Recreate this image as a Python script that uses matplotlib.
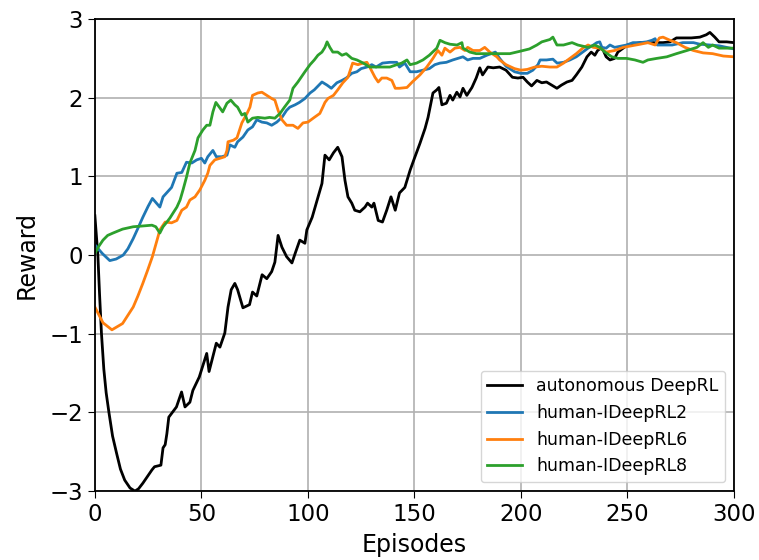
import matplotlib
matplotlib.use("Agg")
import matplotlib.pyplot as plt

# autonomous DeepRL
auto_x = [0, 0.7, 1.4, 2.2, 3.1, 4.2, 5.3, 6.6, 8.3, 10.2, 12, 14, 16.5, 18.8, 20.5, 22.5, 25, 26.8, 28,
          31, 32, 33, 33.8, 34.7, 38.3, 40.7, 42.3, 44.6, 46, 49,
          52.5, 53.6, 57, 58.7, 61, 62.5, 64, 65.7, 67, 69.5, 72.6, 74, 76, 78.5, 80.7, 83, 84.5, 86, 87.8,
          90, 92.5, 94, 96.2, 98.6, 99.5, 102, 106.6, 108, 110, 112, 114, 116, 117.4, 118.8, 120.6, 122,
          124.4, 126.8, 128, 130, 131, 133, 135, 137, 139, 141, 143, 145.5, 148, 150, 152.6, 155, 156.4,
          158.7, 160.5, 161.5, 162.9, 165, 166.7, 168, 169.9, 171.4, 172.8, 174.6, 177, 179, 180.7, 182,
          184.5, 187, 190, 193, 196, 198.6, 201, 203, 205, 207.5, 209.8, 212, 214.5, 216.9, 219, 221.6,
          224, 226, 228.6, 231, 233, 234.7, 236, 238, 240, 241.8, 244, 245.5, 248, 250, 256, 262, 266.7,
          270, 273, 276, 280, 284, 287, 288.7, 291, 293, 296.6, 300]
auto_y = [0.50, 0.25, 0.0, -0.50, -1.00, -1.45, -1.75, -2.00, -2.30, -2.52, -2.72, -2.86, -2.96, -3.00,
          -2.97, -2.90, -2.80, -2.73, -2.69, -2.67, -2.45, -2.41, -2.27, -2.06,
          -1.93, -1.74, -1.93, -1.87, -1.72, -1.55, -1.25, -1.48, -1.12, -1.17, -0.99, -0.66, -0.44, -0.36,
          -0.44, -0.67, -0.63, -0.47, -0.52, -0.25, -0.30, -0.21, -0.09, 0.25, 0.10, -0.02, -0.10, 0.02,
          0.19, 0.15, 0.32, 0.48, 0.91, 1.27, 1.21, 1.30, 1.37, 1.25, 0.95, 0.74, 0.66, 0.57, 0.55, 0.61,
          0.66, 0.61, 0.66, 0.44, 0.42, 0.57, 0.74, 0.57, 0.79, 0.86, 1.08, 1.23, 1.42, 1.61, 1.75, 2.06,
          2.10, 2.13, 1.91, 1.93, 2.03, 1.97, 2.07, 2.01, 2.12, 2.03, 2.13, 2.25, 2.38, 2.29, 2.39, 2.38,
          2.39, 2.35, 2.26, 2.25, 2.26, 2.20, 2.15, 2.22, 2.19, 2.20, 2.16, 2.12, 2.16, 2.20, 2.22, 2.29,
          2.39, 2.52, 2.58, 2.54, 2.60, 2.64, 2.52, 2.48, 2.50, 2.58, 2.63, 2.67, 2.70, 2.70, 2.70, 2.71,
          2.76, 2.76, 2.76, 2.77, 2.80, 2.83, 2.77, 2.71, 2.71, 2.70]

# human-IDeepRL2
h2_x = [0, 3.5, 7, 10, 13.3, 15.5, 18, 20.2, 22.5, 25, 27, 30.5, 32, 34, 36, 38.5, 40.8, 43, 45.5, 47.8,
        50, 51.6, 53,
        55.4, 57, 59.6, 62, 63.4, 65.7, 67, 69.5, 71.8, 74, 76, 78.4, 80.7, 83, 85.4, 87.8, 90, 91.5, 94,
        96, 98.6, 101, 103, 106.6, 109, 111, 113.6, 116, 118, 120.6, 123, 125, 127.7, 130, 132, 135,
        138.5, 141.7, 143, 145.5, 148, 151, 154, 157, 159.6, 162, 165, 168, 170.4, 172.8, 175, 177.5,
        180.7, 184, 186, 188, 190, 193, 197, 200, 203, 205.6, 208, 209, 212, 215, 217, 220, 223, 226,
        229, 231.5, 234, 235.6, 237, 238, 240, 241.8, 244, 249.6, 252.6, 256, 259, 261.5, 263, 264,
        266.7, 271, 276, 281, 284, 288.7, 293, 300]
h2_y = [0.13, 0.02, -0.07, -0.05, 0.0, 0.08, 0.21, 0.34, 0.48, 0.62, 0.72, 0.61, 0.74, 0.80, 0.86, 1.04,
        1.05, 1.18, 1.17,
        1.21, 1.23, 1.17, 1.25, 1.33, 1.25, 1.25, 1.27, 1.40, 1.37, 1.44, 1.50, 1.59, 1.63, 1.72, 1.69,
        1.68, 1.65, 1.69, 1.75, 1.84, 1.88, 1.91, 1.94, 1.99, 2.06, 2.10, 2.20, 2.16, 2.12, 2.19, 2.22,
        2.25, 2.31, 2.33, 2.37, 2.39, 2.42, 2.39, 2.44, 2.45, 2.45, 2.39, 2.44, 2.33, 2.33, 2.35, 2.37,
        2.42, 2.44, 2.45, 2.48, 2.50, 2.52, 2.48, 2.50, 2.50, 2.54, 2.56, 2.58, 2.50, 2.40, 2.33, 2.31,
        2.31, 2.35, 2.42, 2.48, 2.48, 2.49, 2.44, 2.45, 2.48, 2.52, 2.58, 2.63, 2.67, 2.70, 2.71, 2.64,
        2.63, 2.67, 2.64, 2.67, 2.70, 2.70, 2.71, 2.73, 2.75, 2.67, 2.67, 2.67, 2.70, 2.70, 2.68, 2.67,
        2.66, 2.62]

# human-IDeepRL6
h6_x = [0, 3.8, 8, 13, 18, 20.2, 22.5, 24.8, 27, 29.6, 30.5, 33, 36, 38.5, 40.8, 43, 44.6, 47, 49.3, 51.6,
        53, 54, 56.3, 58.7, 61, 62, 62.5, 65, 66.7, 69, 71.4, 72.8, 74, 76.5, 78.4, 80.7, 83, 84.5, 86,
        87.8, 90, 93, 95.3, 97.7, 100, 103, 105.6, 107, 108, 109.4, 112, 114, 116.4, 118.8, 121, 123.5,
        126, 127.7, 129, 131.5, 133, 134.7, 137, 139.4, 141, 143, 146.5, 149, 152.6, 155.8, 158.7, 161,
        162.9, 164.3, 166.7, 169, 171.4, 173.7, 175, 177.5, 180.7, 183, 185.4, 188.7, 190, 193, 197, 200,
        203, 206.5, 209.8, 213.6, 216.9, 220, 223, 226, 229, 231.5, 234, 237, 240, 244, 248, 252, 256,
        259.6, 263, 265, 266.7, 270, 273, 277, 281, 285.5, 290, 295, 300]
h6_y = [-0.66, -0.86, -0.95, -0.87, -0.66, -0.52, -0.36, -0.19, -0.02, 0.23, 0.32, 0.42, 0.41, 0.44, 0.57,
        0.61, 0.70, 0.74, 0.83, 0.95, 1.04, 1.14, 1.21, 1.23, 1.25, 1.33, 1.44, 1.46, 1.49, 1.68, 1.80,
        1.88, 2.03, 2.06, 2.07, 2.03, 1.99, 1.97, 1.84, 1.72, 1.65, 1.65, 1.61, 1.68, 1.69, 1.75, 1.80,
        1.88, 1.94, 1.99, 2.03, 2.10, 2.19, 2.26, 2.44, 2.42, 2.44, 2.45, 2.39, 2.26, 2.20, 2.25, 2.25,
        2.22, 2.12, 2.12, 2.13, 2.20, 2.29, 2.39, 2.50, 2.60, 2.54, 2.63, 2.58, 2.63, 2.64, 2.60, 2.64,
        2.60, 2.60, 2.64, 2.58, 2.52, 2.48, 2.42, 2.37, 2.35, 2.36, 2.39, 2.40, 2.39, 2.39, 2.44, 2.50,
        2.56, 2.63, 2.67, 2.64, 2.63, 2.58, 2.60, 2.64, 2.66, 2.68, 2.70, 2.67, 2.76, 2.77, 2.73, 2.70,
        2.64, 2.60, 2.57, 2.56, 2.53, 2.52]

# human-IDeepRL8
h8_x = [0, 1.8, 3.8, 6, 8.5, 13, 18, 22.5, 26.8, 28.6, 30.5, 32, 33.8, 35.2, 36.6, 38.5, 40, 41.4, 43,
        44.6, 47,
        48.4, 50.7, 52.5, 54, 55.4, 56.8, 58.7, 60, 62, 63.8, 65.7, 67, 69, 70.4, 71.8, 74, 76.5, 79.8,
        82, 84.5, 86.9, 89, 91.5, 93, 95.3, 98.6, 101, 103, 104.7, 106.6, 108, 109, 110.3, 111.7, 114,
        116, 118, 120.6, 123, 126, 129, 132, 135, 138.5, 141.7, 144, 146.5, 148, 151, 154, 157, 160.5,
        162, 164.3, 166.7, 170, 172.3, 172.8, 176, 179, 184, 188.7, 194.8, 199.5, 204, 207.5, 209.8,
        213.6, 215, 216.9, 220, 224, 226.7, 231.5, 234.7, 237, 239.4, 242.7, 245.5, 249.6, 253.5, 257.3,
        259.6, 263.8, 268.5, 273, 277.9, 282.6, 285.5, 288, 290, 293, 296.6, 300]
h8_y = [0.02, 0.11, 0.19, 0.25, 0.28, 0.33, 0.36, 0.37, 0.38, 0.36, 0.28, 0.36, 0.42, 0.47, 0.53, 0.61,
        0.70, 0.83,
        0.99, 1.17, 1.33, 1.49, 1.59, 1.65, 1.65, 1.82, 1.94, 1.87, 1.82, 1.93, 1.97, 1.91, 1.88, 1.78,
        1.80, 1.69, 1.74, 1.75, 1.74, 1.75, 1.74, 1.80, 1.88, 1.97, 2.12, 2.20, 2.33, 2.42, 2.48, 2.54,
        2.58, 2.64, 2.71, 2.64, 2.58, 2.58, 2.54, 2.56, 2.50, 2.48, 2.44, 2.39, 2.39, 2.39, 2.39, 2.42,
        2.44, 2.48, 2.42, 2.44, 2.48, 2.54, 2.63, 2.73, 2.70, 2.68, 2.67, 2.70, 2.63, 2.58, 2.56, 2.56,
        2.56, 2.56, 2.59, 2.62, 2.67, 2.71, 2.74, 2.77, 2.67, 2.67, 2.70, 2.67, 2.64, 2.67, 2.64, 2.58,
        2.52, 2.50, 2.50, 2.48, 2.45, 2.48, 2.50, 2.52, 2.56, 2.60, 2.64, 2.70, 2.64, 2.67, 2.63, 2.63,
        2.63]

fig = plt.figure(figsize=(7.59, 5.6), dpi=100)
ax = fig.add_axes([0.125, 0.123, 0.842, 0.843])

ax.plot(auto_x, auto_y, color="black", lw=2, label="autonomous DeepRL")
ax.plot(h2_x, h2_y, color="#1f77b4", lw=2, label="human-IDeepRL2")
ax.plot(h6_x, h6_y, color="#ff7f0e", lw=2, label="human-IDeepRL6")
ax.plot(h8_x, h8_y, color="#2ca02c", lw=2, label="human-IDeepRL8")

ax.set_xlim(0, 300)
ax.set_ylim(-3, 3)
ax.set_xticks([0, 50, 100, 150, 200, 250, 300])
ax.set_yticks([-3, -2, -1, 0, 1, 2, 3])
ax.grid(True, color="#b0b0b0", lw=1.2)
ax.tick_params(labelsize=16.5, length=5)
ax.set_xlabel("Episodes", fontsize=17, labelpad=5)
ax.set_ylabel("Reward", fontsize=17, labelpad=8)
for s in ax.spines.values():
    s.set_linewidth(1.3)

ax.legend(loc="lower right", fontsize=12.5)

fig.savefig("out.png", dpi=100)
